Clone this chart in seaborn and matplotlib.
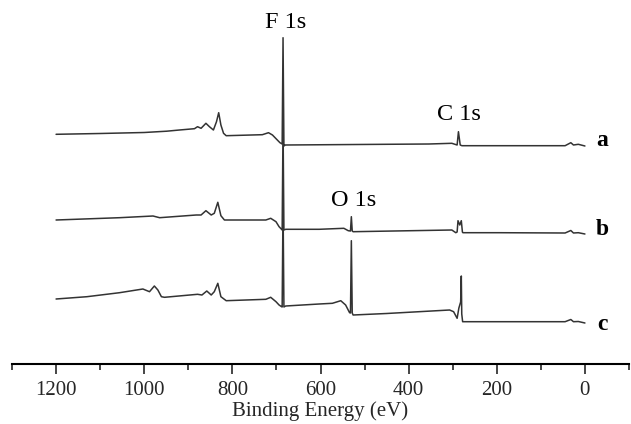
import numpy as np
import pandas as pd
import matplotlib
matplotlib.use("Agg")
import matplotlib.pyplot as plt
import seaborn as sns

# XPS survey spectra (binding energy in eV, intensity in a.u.)
energy_a = [1200, 1100, 1000, 949, 920, 886, 879, 871, 860, 852, 843, 836, 831, 826, 820, 814,
            732, 718, 709, 698, 692, 687, 685, 683, 680, 354, 302, 290, 287, 283, 279,
            45, 32, 26, 15, 0]
counts_a = [229.7, 230.5, 231.5, 232.8, 234, 235.3, 237.3, 235.7, 240.7, 237.3, 234, 242.3, 251.3, 239, 230.7, 228.3,
            229.3, 231.3, 229, 224, 221.3, 220, 326.3, 218, 219, 220, 220.7, 219, 232.3, 219, 218.3,
            218.3, 221.3, 219, 219.7, 218]

energy_b = [1200, 1056, 980, 965, 882, 871, 860, 848, 841, 833, 826, 818,
            724, 713, 701, 694, 689, 687, 685, 683, 679, 603, 547, 537, 532, 530, 528, 526,
            302, 293, 290, 288, 284, 280.5, 278, 277, 196, 45, 32, 26, 15, 0]
counts_b = [144, 146.3, 148, 146.3, 149, 149, 153.3, 149, 150.7, 161.7, 148.3, 144,
            144, 145.7, 142.3, 137.3, 135, 134, 240, 134, 134.7, 134.7, 135.7, 133.3, 133, 147.3, 133, 132.3,
            134, 131.3, 132, 143.3, 139, 143.3, 132, 131.3, 131.3, 131, 133.5, 131, 131.3, 130]

energy_c = [1200, 1130, 1056, 1003, 988, 977, 969, 961, 954, 879, 869, 858, 848, 841, 833, 826, 814,
            724, 713, 701, 694, 689, 687, 685, 683, 679, 603, 573, 554, 543, 534, 532, 530, 528, 526,
            450, 307, 298, 290, 286, 282, 280.5, 279.5, 277.5, 196, 45, 32, 26, 15, 0]
counts_c = [65, 67.3, 71.3, 75, 72.3, 78, 74, 67.3, 66.7, 69.7, 69, 73, 69, 72.3, 80.7, 67.3, 63.3,
            64.7, 66.7, 62.3, 59, 57.5, 57, 160, 57, 58, 60, 60.7, 63.3, 59, 51.3, 51, 123.3, 51, 49,
            50.5, 54, 52.3, 45.7, 56, 62, 88, 50, 42.3, 42.3, 42.3, 44.5, 42.3, 42.5, 41]

sample_names = ["a", "b", "c"]
spectra = [(energy_a, counts_a), (energy_b, counts_b), (energy_c, counts_c)]
name_heights = [217.5, 129, 34]

# peak labels: text, energy, height
peak_labels = ["F 1s", "C 1s", "O 1s"]
peak_energy = [680, 285, 524]
peak_height = [341, 249, 164]

sns.set_theme(style="white")
plt.rcParams['font.family'] = ['Liberation Serif', 'DejaVu Serif']

fig = plt.figure(figsize=(6.31, 4.24), dpi=100)
ax = fig.add_axes([12 / 631, 60 / 424, 617 / 631, 364 / 424])

for name, (e, c), h in zip(sample_names, spectra, name_heights):
    df = pd.DataFrame({"energy": e, "counts": c})
    sns.lineplot(data=df, x="energy", y="counts", sort=False, estimator=None,
                 color="#333333", linewidth=1.1, ax=ax)
    # sample letter at the right end of each curve
    ax.text(-39, h, name, fontsize=17, fontweight="bold",
            ha="center", va="baseline", color="black")

for lab, e, h in zip(peak_labels, peak_energy, peak_height):
    ax.text(e, h, lab, fontsize=17.5, ha="center", va="center", color="black")

ax.set_xlim(1300, -100)
ax.set_ylim(0, 364)
ax.set_xticks(np.arange(1200, -1, -200))
ax.set_xticks(np.arange(1300, -101, -100), minor=True)
ax.tick_params(axis="x", which="major", direction="out", length=7, width=1.2,
               labelsize=15, pad=5, bottom=True)
ax.tick_params(axis="x", which="minor", direction="out", length=4, width=1.2, bottom=True)
ax.set_yticks([])
ax.set_ylabel("")
ax.set_xlabel("Binding Energy (eV)", fontsize=15, labelpad=1)

for s in ["top", "left", "right"]:
    ax.spines[s].set_visible(False)
ax.spines["bottom"].set_linewidth(1.5)
ax.spines["bottom"].set_color("black")

fig.savefig("out.png", dpi=100)
